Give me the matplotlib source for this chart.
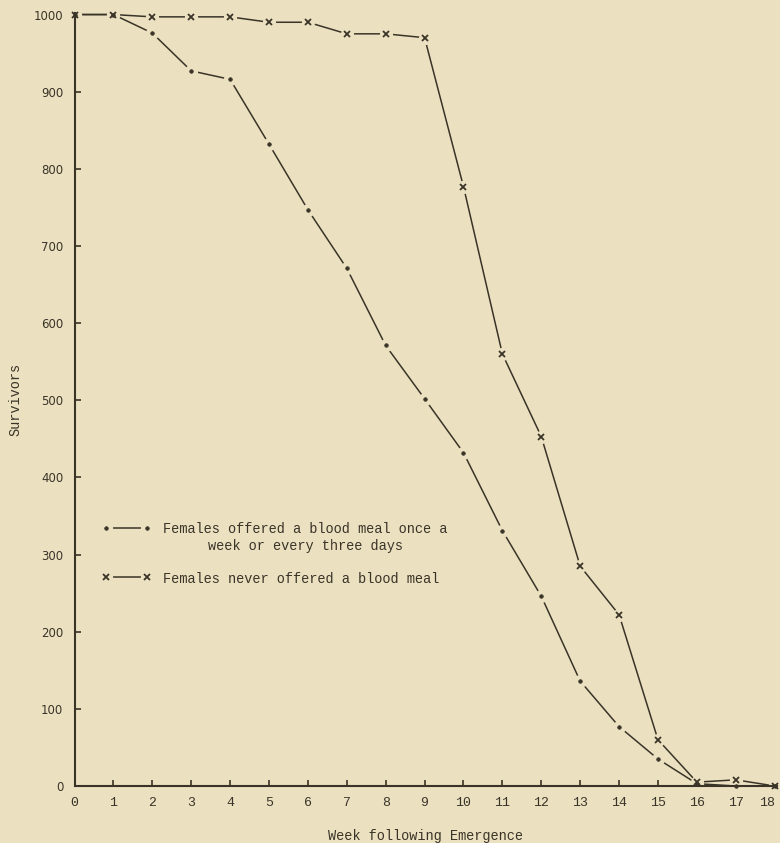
import numpy as np
import matplotlib.pyplot as plt
from matplotlib.legend_handler import HandlerTuple

PAPER = '#ebe1c1'
INK = '#3a3428'
TYPE = 'Liberation Mono'

# Survivors per week after emergence (out of 1000 females)
weeks = [0, 1, 2, 3, 4, 5, 6, 7, 8, 9, 10, 11, 12, 13, 14, 15, 16, 17, 18]
fed = [1000, 1000, 976, 927, 916, 832, 747, 671, 571, 502, 432, 331, 246,
       136, 77, 35, 3, 0, 0]
unfed = [1000, 1000, 997, 997, 997, 990, 990, 975, 975, 970, 777, 560, 453,
         285, 222, 60, 5, 8, 0]

fed_label = 'Females offered a blood meal once a\nweek or every three days'
unfed_label = 'Females never offered a blood meal'

fig = plt.figure(figsize=(7.8, 8.43), dpi=100, facecolor=PAPER)
ax = fig.add_axes([74.5 / 780, 57 / 843, 702.5 / 780, 773 / 843])
ax.set_facecolor(PAPER)

ax.set_xlim(0, 18.06)
ax.set_ylim(0, 1002)


def draw_series(y, marker, size, mew):
    # line first, then a paper-coloured disc to open a gap, then the mark
    line, = ax.plot(weeks, y, color=INK, lw=1.1, zorder=2, clip_on=False)
    halo, = ax.plot(weeks, y, ls='none', marker='o', ms=8.5, mfc=PAPER,
                    mec=PAPER, zorder=2.1, clip_on=False)
    mark, = ax.plot(weeks, y, ls='none', marker=marker, ms=size, mew=mew,
                    color=INK, zorder=4, clip_on=False)
    return line, halo, mark


h_fed = draw_series(fed, 'o', 2.6, 0.5)
h_unfed = draw_series(unfed, 'x', 4.2, 1.3)

for side in ['top', 'right']:
    ax.spines[side].set_visible(False)
for side in ['left', 'bottom']:
    ax.spines[side].set_linewidth(1.5)
    ax.spines[side].set_color(INK)
    ax.spines[side].set_zorder(3)

ax.set_xticks(weeks)
ax.set_yticks(np.arange(0, 1001, 100))
ax.tick_params(direction='in', length=4, width=1.2, color=INK, pad=8,
               labelcolor=INK)
for t in ax.get_xticklabels():
    t.set_fontfamily(TYPE)
    t.set_fontsize(9.5)
ax.get_xticklabels()[-1].set_horizontalalignment('right')
for t in ax.get_yticklabels():
    t.set_fontfamily('DejaVu Sans')
    t.set_fontsize(8.5)

ax.set_xlabel('Week following Emergence', family=TYPE, fontsize=9.8,
              color=INK, labelpad=14)
ax.set_ylabel('Survivors', family=TYPE, fontsize=9.8, color=INK, labelpad=8)

leg = ax.legend([h_fed, h_unfed], [fed_label, unfed_label],
                handler_map={tuple: HandlerTuple(ndivide=1, pad=0)},
                numpoints=2, frameon=False, loc='upper left',
                bbox_to_anchor=(0.039, 0.341), borderaxespad=0, borderpad=0,
                handlelength=3.6, handleheight=1.0, handletextpad=0.9,
                labelspacing=1.42,
                prop={'family': TYPE, 'size': 9.8})
for t in leg.get_texts():
    t.set_color(INK)
leg.get_texts()[0].set_multialignment('center')
# keep each handle level with the first line of its label
for col in leg._legend_handle_box.get_children():
    for row in col.get_children():
        row.align = 'top'

fig.savefig('out.png', dpi=100, facecolor=PAPER)
